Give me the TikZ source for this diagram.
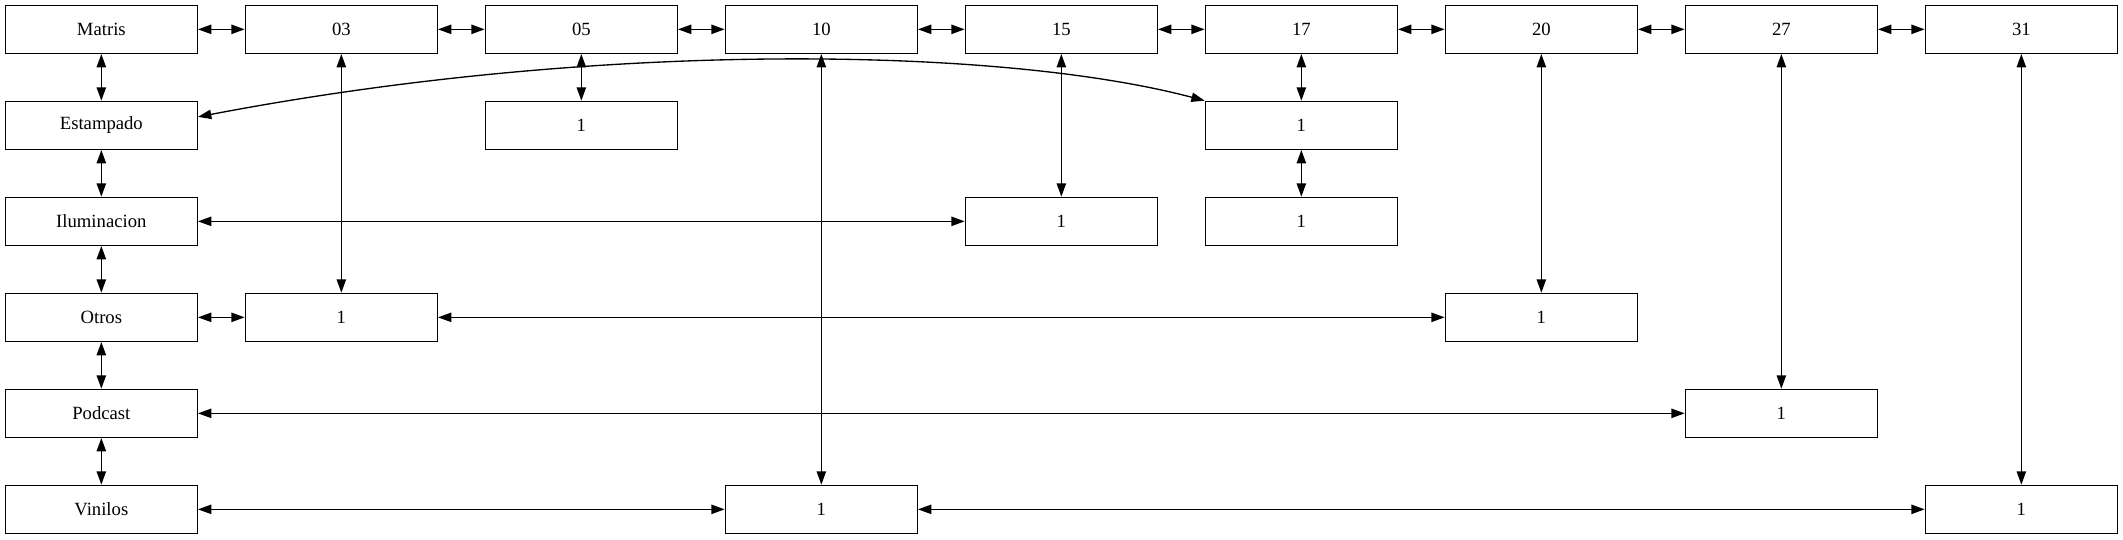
\documentclass[tikz,border=0pt]{standalone}
\usepackage{fontspec}
\setmainfont{Liberation Serif}
\usetikzlibrary{arrows.meta}
\begin{document}
\begin{tikzpicture}[x=1pt,y=1pt,
  box/.style={draw, rectangle, line width=1pt, minimum width=144pt, minimum height=36pt, inner sep=0pt, font=\fontsize{14}{16}\selectfont},
  lk/.style={line width=1pt, {Triangle[length=10pt,width=7pt]}-{Triangle[length=10pt,width=7pt]}}]
\useasboundingbox (0,0) rectangle (1592.25,-404.25);
% top row
\node[box] (m) at (76,-22) {Matris};
\node[box] (c1) at (256,-22) {03};
\node[box] (c2) at (436,-22) {05};
\node[box] (c3) at (616,-22) {10};
\node[box] (c4) at (796,-22) {15};
\node[box] (c5) at (976,-22) {17};
\node[box] (c6) at (1156,-22) {20};
\node[box] (c7) at (1336,-22) {27};
\node[box] (c8) at (1516,-22) {31};
% left column
\node[box] (est) at (76,-94) {Estampado};
\node[box] (ilu) at (76,-166) {Iluminacion};
\node[box] (otr) at (76,-238) {Otros};
\node[box] (pod) at (76,-310) {Podcast};
\node[box] (vin) at (76,-382) {Vinilos};
% inner nodes
\node[box] (n21) at (436,-94) {1};
\node[box] (n51) at (976,-94) {1};
\node[box] (n42) at (796,-166) {1};
\node[box] (n52) at (976,-166) {1};
\node[box] (n13) at (256,-238) {1};
\node[box] (n63) at (1156,-238) {1};
\node[box] (n74) at (1336,-310) {1};
\node[box] (n35) at (616,-382) {1};
\node[box] (n85) at (1516,-382) {1};
% top chain
\draw[lk] (m) -- (c1);
\draw[lk] (c1) -- (c2);
\draw[lk] (c2) -- (c3);
\draw[lk] (c3) -- (c4);
\draw[lk] (c4) -- (c5);
\draw[lk] (c5) -- (c6);
\draw[lk] (c6) -- (c7);
\draw[lk] (c7) -- (c8);
% left chain
\draw[lk] (m) -- (est);
\draw[lk] (est) -- (ilu);
\draw[lk] (ilu) -- (otr);
\draw[lk] (otr) -- (pod);
\draw[lk] (pod) -- (vin);
% verticals
\draw[lk] (c2) -- (n21);
\draw[lk] (c5) -- (n51);
\draw[lk] (n51) -- (n52);
\draw[lk] (c4) -- (n42);
\draw[lk] (c1) -- (n13);
\draw[lk] (c6) -- (n63);
\draw[lk] (c7) -- (n74);
\draw[lk] (c3) -- (n35);
\draw[lk] (c8) -- (n85);
% horizontals
\draw[lk] (ilu) -- (n42);
\draw[lk] (otr) -- (n13);
\draw[lk] (n13) -- (n63);
\draw[lk] (pod) -- (n74);
\draw[lk] (vin) -- (n35);
\draw[lk] (n35) -- (n85);
% curve
\draw[lk] (est.5) .. controls (450,-30) and (750,-35) .. (n51.north west);
\end{tikzpicture}
\end{document}
